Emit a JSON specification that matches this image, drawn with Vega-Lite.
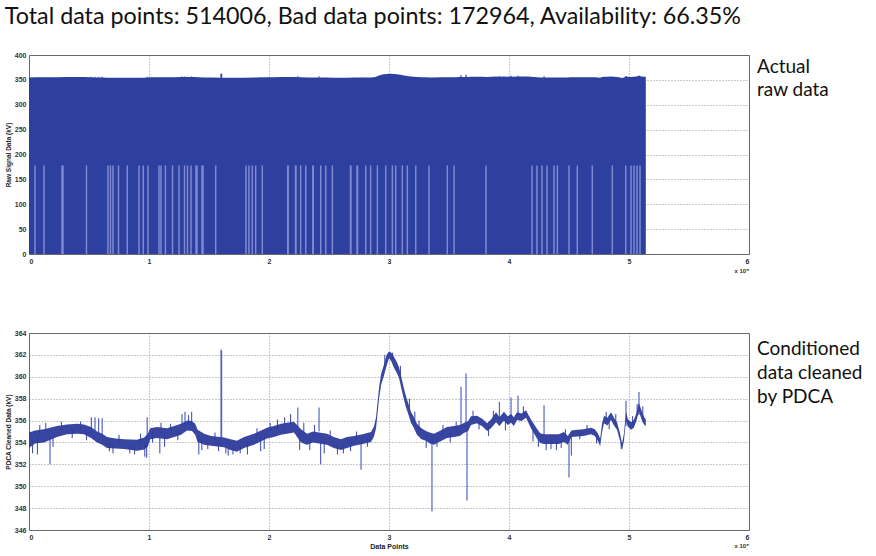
{
  "$schema": "https://vega.github.io/schema/vega-lite/v6.json",
  "background": "white",
  "padding": {"left": 4, "top": 5, "right": 0, "bottom": 0},
  "title": {"text": "Total data points: 514006, Bad data points: 172964, Availability: 66.35%", "anchor": "start", "frame": "bounds", "font": "Lato", "fontSize": 23.3, "fontWeight": "normal", "color": "#111111", "offset": 21},
  "spacing": 53,
  "config": {
    "view": {"stroke": "#666666", "strokeWidth": 1},
    "axis": {"grid": true, "gridDash": [1, 2], "gridColor": "#777777", "gridOpacity": 0.8, "ticks": false, "domain": false, "labelOverlap": false, "tickCount": 30, "format": "d", "labelFont": "Liberation Sans", "labelFontSize": 7, "labelFontWeight": "bold", "labelColor": "#333333", "labelPadding": 3, "titleFont": "Liberation Sans", "titleFontSize": 6.5, "titleFontWeight": "bold", "titleColor": "#222222"}
  },
  "datasets": {
    "band": [
      {"x": 0, "lo": 353.5, "hi": 354.9}, {"x": 5000, "lo": 353.9, "hi": 355.1}, {"x": 12500, "lo": 354.0, "hi": 355.2}, {"x": 23300, "lo": 354.5, "hi": 355.5},
      {"x": 31700, "lo": 354.75, "hi": 355.65}, {"x": 40000, "lo": 354.8, "hi": 355.7}, {"x": 45800, "lo": 354.75, "hi": 355.65}, {"x": 51700, "lo": 354.4, "hi": 355.4},
      {"x": 56700, "lo": 354.0, "hi": 355.0}, {"x": 61000, "lo": 353.8, "hi": 354.8}, {"x": 65000, "lo": 353.5, "hi": 354.5}, {"x": 72000, "lo": 353.45, "hi": 354.35},
      {"x": 79200, "lo": 353.4, "hi": 354.3}, {"x": 90000, "lo": 353.25, "hi": 354.25}, {"x": 96000, "lo": 353.35, "hi": 354.45}, {"x": 99000, "lo": 353.6, "hi": 354.8},
      {"x": 101000, "lo": 354.3, "hi": 355.3}, {"x": 106700, "lo": 354.4, "hi": 355.4}, {"x": 115000, "lo": 354.3, "hi": 355.3}, {"x": 121000, "lo": 354.5, "hi": 355.5},
      {"x": 126700, "lo": 354.7, "hi": 355.7}, {"x": 131700, "lo": 355.1, "hi": 356.0}, {"x": 135800, "lo": 355.05, "hi": 355.95}, {"x": 138500, "lo": 354.7, "hi": 355.7},
      {"x": 140500, "lo": 354.05, "hi": 355.15}, {"x": 146000, "lo": 353.8, "hi": 354.8}, {"x": 151700, "lo": 353.7, "hi": 354.6}, {"x": 162500, "lo": 353.55, "hi": 354.45},
      {"x": 168000, "lo": 353.3, "hi": 354.3}, {"x": 173300, "lo": 353.15, "hi": 354.15}, {"x": 179200, "lo": 353.5, "hi": 354.5}, {"x": 187500, "lo": 353.8, "hi": 354.8},
      {"x": 198300, "lo": 354.35, "hi": 355.35}, {"x": 204000, "lo": 354.5, "hi": 355.5}, {"x": 210000, "lo": 354.7, "hi": 355.7}, {"x": 215000, "lo": 354.8, "hi": 355.8},
      {"x": 220800, "lo": 354.9, "hi": 355.9}, {"x": 226700, "lo": 354.0, "hi": 355.2}, {"x": 231700, "lo": 353.8, "hi": 354.8}, {"x": 236700, "lo": 354.0, "hi": 355.0},
      {"x": 241700, "lo": 353.9, "hi": 354.9}, {"x": 248300, "lo": 353.8, "hi": 354.8}, {"x": 254000, "lo": 353.5, "hi": 354.5}, {"x": 260000, "lo": 353.3, "hi": 354.3},
      {"x": 265000, "lo": 353.5, "hi": 354.5}, {"x": 270800, "lo": 353.7, "hi": 354.6}, {"x": 278000, "lo": 353.85, "hi": 354.75}, {"x": 285000, "lo": 354.05, "hi": 354.95},
      {"x": 287500, "lo": 354.55, "hi": 355.45}, {"x": 289200, "lo": 355.3, "hi": 356.3}, {"x": 291700, "lo": 358.0, "hi": 359.0}, {"x": 293500, "lo": 359.3, "hi": 360.3},
      {"x": 295800, "lo": 360.1, "hi": 361.1}, {"x": 298000, "lo": 361.0, "hi": 362.0}, {"x": 300000, "lo": 361.7, "hi": 362.3}, {"x": 302000, "lo": 361.4, "hi": 362.2},
      {"x": 304200, "lo": 360.8, "hi": 361.8}, {"x": 306300, "lo": 360.4, "hi": 361.4}, {"x": 308300, "lo": 359.9, "hi": 360.9}, {"x": 310800, "lo": 358.7, "hi": 359.7},
      {"x": 312500, "lo": 357.9, "hi": 358.9}, {"x": 314200, "lo": 357.2, "hi": 358.2}, {"x": 316300, "lo": 356.5, "hi": 357.5}, {"x": 318300, "lo": 355.8, "hi": 356.8},
      {"x": 320800, "lo": 355.3, "hi": 356.3}, {"x": 323300, "lo": 354.7, "hi": 355.7}, {"x": 327000, "lo": 354.3, "hi": 355.3}, {"x": 330800, "lo": 354.15, "hi": 355.05},
      {"x": 334000, "lo": 353.9, "hi": 354.9}, {"x": 337500, "lo": 353.8, "hi": 354.8}, {"x": 343000, "lo": 354.1, "hi": 355.1}, {"x": 348300, "lo": 354.4, "hi": 355.4},
      {"x": 354200, "lo": 354.5, "hi": 355.5}, {"x": 359000, "lo": 354.6, "hi": 355.6}, {"x": 362000, "lo": 354.85, "hi": 355.75}, {"x": 366000, "lo": 355.05, "hi": 355.95},
      {"x": 368300, "lo": 355.6, "hi": 356.4}, {"x": 373300, "lo": 355.75, "hi": 356.45}, {"x": 378000, "lo": 355.45, "hi": 356.15}, {"x": 381700, "lo": 355.05, "hi": 355.75},
      {"x": 385000, "lo": 355.3, "hi": 356.1}, {"x": 389200, "lo": 355.85, "hi": 356.75}, {"x": 392000, "lo": 355.5, "hi": 356.3}, {"x": 395800, "lo": 356.0, "hi": 356.8},
      {"x": 399000, "lo": 355.6, "hi": 356.4}, {"x": 401700, "lo": 355.8, "hi": 356.6}, {"x": 404000, "lo": 355.5, "hi": 356.3}, {"x": 406700, "lo": 356.05, "hi": 356.75},
      {"x": 410500, "lo": 355.95, "hi": 356.65}, {"x": 414200, "lo": 356.25, "hi": 356.95}, {"x": 416000, "lo": 355.85, "hi": 356.55}, {"x": 418300, "lo": 355.3, "hi": 356.1},
      {"x": 423300, "lo": 354.35, "hi": 355.25}, {"x": 426000, "lo": 353.95, "hi": 354.85}, {"x": 429200, "lo": 353.85, "hi": 354.75}, {"x": 433000, "lo": 353.85, "hi": 354.75},
      {"x": 437500, "lo": 353.85, "hi": 354.75}, {"x": 441500, "lo": 353.85, "hi": 354.75}, {"x": 445800, "lo": 354.05, "hi": 354.95}, {"x": 449000, "lo": 353.8, "hi": 354.6},
      {"x": 452000, "lo": 354.5, "hi": 355.1}, {"x": 456700, "lo": 354.55, "hi": 355.15}, {"x": 462000, "lo": 354.6, "hi": 355.2}, {"x": 468300, "lo": 354.75, "hi": 355.35},
      {"x": 471500, "lo": 354.6, "hi": 355.2}, {"x": 474000, "lo": 354.15, "hi": 354.85}, {"x": 476000, "lo": 353.65, "hi": 354.35}, {"x": 477500, "lo": 354.9, "hi": 355.7},
      {"x": 479200, "lo": 355.75, "hi": 356.45}, {"x": 482000, "lo": 355.55, "hi": 356.25}, {"x": 485000, "lo": 356.05, "hi": 356.75}, {"x": 487500, "lo": 355.55, "hi": 356.25},
      {"x": 490000, "lo": 355.15, "hi": 355.85}, {"x": 492500, "lo": 354.15, "hi": 354.85}, {"x": 494200, "lo": 353.3, "hi": 353.9}, {"x": 495800, "lo": 354.15, "hi": 354.85},
      {"x": 497500, "lo": 356.0, "hi": 356.8}, {"x": 499000, "lo": 355.45, "hi": 356.15}, {"x": 501700, "lo": 355.15, "hi": 355.85}, {"x": 504000, "lo": 355.35, "hi": 356.05},
      {"x": 505800, "lo": 355.85, "hi": 356.55}, {"x": 508300, "lo": 356.8, "hi": 357.6}, {"x": 510800, "lo": 356.0, "hi": 356.8}, {"x": 512500, "lo": 355.65, "hi": 356.35},
      {"x": 514006, "lo": 355.5, "hi": 356.1}
    ],
    "spikes": [
      {"x": 17500, "from": 354.6, "to": 352.0}, {"x": 52000, "from": 355.2, "to": 356.3}, {"x": 55000, "from": 355.0, "to": 356.3}, {"x": 58000, "from": 354.8, "to": 356.2},
      {"x": 61000, "from": 354.5, "to": 356.2}, {"x": 98500, "from": 354.2, "to": 356.3}, {"x": 98000, "from": 354.0, "to": 352.6}, {"x": 109000, "from": 354.5, "to": 353.0},
      {"x": 127500, "from": 355.5, "to": 356.6}, {"x": 130000, "from": 355.6, "to": 356.8}, {"x": 135500, "from": 355.6, "to": 356.8}, {"x": 141500, "from": 354.5, "to": 352.9},
      {"x": 160000, "from": 354.3, "to": 362.5}, {"x": 160500, "from": 354.3, "to": 362.4}, {"x": 164000, "from": 354.0, "to": 353.0}, {"x": 170000, "from": 353.8, "to": 352.9},
      {"x": 193000, "from": 354.6, "to": 353.2}, {"x": 224000, "from": 355.3, "to": 357.2}, {"x": 225500, "from": 355.0, "to": 353.3}, {"x": 241700, "from": 355.0, "to": 357.2},
      {"x": 243000, "from": 354.0, "to": 352.0}, {"x": 276700, "from": 354.3, "to": 351.5}, {"x": 335800, "from": 354.3, "to": 347.7}, {"x": 360000, "from": 355.3, "to": 359.1},
      {"x": 364200, "from": 355.3, "to": 360.3}, {"x": 365000, "from": 355.3, "to": 348.7}, {"x": 392000, "from": 356.2, "to": 357.7}, {"x": 401700, "from": 356.2, "to": 358.1},
      {"x": 407500, "from": 356.4, "to": 358.3}, {"x": 429200, "from": 354.5, "to": 357.4}, {"x": 450000, "from": 354.3, "to": 350.8}, {"x": 452000, "from": 354.5, "to": 352.8},
      {"x": 497500, "from": 355.5, "to": 357.8}, {"x": 508300, "from": 356.5, "to": 358.6}
    ],
    "noise": [
      {"x": 3000, "from": 354.2, "to": 353.0}, {"x": 7000, "from": 354.5, "to": 352.9}, {"x": 9000, "from": 354.6, "to": 355.6}, {"x": 14000, "from": 354.7, "to": 355.8},
      {"x": 20000, "from": 354.8, "to": 353.6}, {"x": 27000, "from": 355.2, "to": 355.9}, {"x": 36000, "from": 355.3, "to": 354.4}, {"x": 43000, "from": 355.2, "to": 355.9},
      {"x": 48000, "from": 355.1, "to": 354.2}, {"x": 67000, "from": 354.0, "to": 353.2}, {"x": 70000, "from": 353.9, "to": 353.0}, {"x": 75000, "from": 353.9, "to": 354.7},
      {"x": 84000, "from": 353.8, "to": 353.0}, {"x": 88000, "from": 353.8, "to": 352.9}, {"x": 93000, "from": 353.8, "to": 354.8}, {"x": 96500, "from": 353.9, "to": 352.7},
      {"x": 103000, "from": 354.9, "to": 354.0}, {"x": 110000, "from": 354.8, "to": 355.8}, {"x": 113000, "from": 354.8, "to": 353.6}, {"x": 118000, "from": 354.9, "to": 355.7},
      {"x": 124000, "from": 355.1, "to": 354.2}, {"x": 133000, "from": 355.6, "to": 356.5}, {"x": 144000, "from": 354.3, "to": 353.3}, {"x": 149000, "from": 354.2, "to": 353.4},
      {"x": 155000, "from": 354.1, "to": 354.9}, {"x": 158000, "from": 354.0, "to": 353.2}, {"x": 166000, "from": 353.9, "to": 352.8}, {"x": 176000, "from": 353.8, "to": 353.0},
      {"x": 182000, "from": 354.1, "to": 352.9}, {"x": 190000, "from": 354.4, "to": 355.3}, {"x": 196000, "from": 354.8, "to": 353.4}, {"x": 201000, "from": 355.0, "to": 355.8},
      {"x": 207000, "from": 355.1, "to": 356.1}, {"x": 213000, "from": 355.3, "to": 356.3}, {"x": 218000, "from": 355.4, "to": 356.6}, {"x": 229000, "from": 354.5, "to": 355.8},
      {"x": 234000, "from": 354.4, "to": 353.3}, {"x": 238000, "from": 354.5, "to": 355.6}, {"x": 246000, "from": 354.4, "to": 353.0}, {"x": 251000, "from": 354.2, "to": 355.1},
      {"x": 257000, "from": 353.9, "to": 352.9}, {"x": 262000, "from": 353.8, "to": 353.0}, {"x": 268000, "from": 354.1, "to": 353.2}, {"x": 273000, "from": 354.2, "to": 355.0},
      {"x": 282000, "from": 354.4, "to": 353.6}, {"x": 296500, "from": 360.8, "to": 362.0}, {"x": 303000, "from": 361.5, "to": 362.2}, {"x": 309500, "from": 359.8, "to": 361.0},
      {"x": 317000, "from": 356.8, "to": 358.0}, {"x": 321500, "from": 355.6, "to": 356.8}, {"x": 325000, "from": 355.0, "to": 356.0}, {"x": 331000, "from": 354.6, "to": 353.5},
      {"x": 340000, "from": 354.4, "to": 353.6}, {"x": 345000, "from": 354.7, "to": 355.6}, {"x": 351000, "from": 354.9, "to": 354.0}, {"x": 356000, "from": 355.0, "to": 355.9},
      {"x": 370000, "from": 356.0, "to": 356.9}, {"x": 375000, "from": 356.0, "to": 355.2}, {"x": 383000, "from": 355.5, "to": 354.6}, {"x": 387000, "from": 355.9, "to": 356.9},
      {"x": 397000, "from": 356.2, "to": 355.1}, {"x": 412000, "from": 356.4, "to": 357.3}, {"x": 420000, "from": 355.2, "to": 354.1}, {"x": 424500, "from": 354.6, "to": 353.6},
      {"x": 431000, "from": 354.3, "to": 353.3}, {"x": 435000, "from": 354.3, "to": 353.4}, {"x": 439500, "from": 354.3, "to": 353.3}, {"x": 443500, "from": 354.4, "to": 353.5},
      {"x": 447000, "from": 354.4, "to": 355.2}, {"x": 459000, "from": 354.9, "to": 354.3}, {"x": 465000, "from": 355.0, "to": 355.6}, {"x": 473000, "from": 354.7, "to": 353.9},
      {"x": 481000, "from": 355.9, "to": 356.8}, {"x": 483500, "from": 356.0, "to": 355.2}, {"x": 489000, "from": 355.7, "to": 356.6}, {"x": 493500, "from": 354.0, "to": 353.4},
      {"x": 503000, "from": 355.6, "to": 356.4}, {"x": 506800, "from": 356.5, "to": 357.5}, {"x": 511500, "from": 356.2, "to": 357.3}
    ],
    "stripes": [
      {"x0": 4400, "x1": 5600}, {"x0": 11900, "x1": 13100}, {"x0": 26900, "x1": 28900}, {"x0": 47300, "x1": 48500}, {"x0": 65200, "x1": 66400},
      {"x0": 67300, "x1": 68500}, {"x0": 69400, "x1": 70600}, {"x0": 74000, "x1": 75200}, {"x0": 81300, "x1": 82500}, {"x0": 91100, "x1": 92300},
      {"x0": 94600, "x1": 95800}, {"x0": 98600, "x1": 99800}, {"x0": 107700, "x1": 108900}, {"x0": 109400, "x1": 110600}, {"x0": 113100, "x1": 114300},
      {"x0": 119000, "x1": 120200}, {"x0": 124400, "x1": 125600}, {"x0": 129000, "x1": 130200}, {"x0": 131500, "x1": 132700}, {"x0": 134400, "x1": 135600},
      {"x0": 138600, "x1": 140600}, {"x0": 143600, "x1": 145600}, {"x0": 155000, "x1": 156200}, {"x0": 180200, "x1": 181400}, {"x0": 182700, "x1": 183900},
      {"x0": 185500, "x1": 186700}, {"x0": 188300, "x1": 189500}, {"x0": 193800, "x1": 195000}, {"x0": 215000, "x1": 216600}, {"x0": 221500, "x1": 223100},
      {"x0": 225800, "x1": 227000}, {"x0": 230000, "x1": 231200}, {"x0": 235900, "x1": 237500}, {"x0": 242500, "x1": 243700}, {"x0": 246700, "x1": 247900},
      {"x0": 252200, "x1": 253400}, {"x0": 267300, "x1": 268900}, {"x0": 272800, "x1": 274400}, {"x0": 280000, "x1": 281200}, {"x0": 284100, "x1": 285300},
      {"x0": 289700, "x1": 290900}, {"x0": 296700, "x1": 297900}, {"x0": 302200, "x1": 303400}, {"x0": 305000, "x1": 306200}, {"x0": 310500, "x1": 311700},
      {"x0": 314700, "x1": 315900}, {"x0": 321700, "x1": 322900}, {"x0": 332700, "x1": 333900}, {"x0": 348000, "x1": 349200}, {"x0": 353600, "x1": 354800},
      {"x0": 380200, "x1": 381400}, {"x0": 418600, "x1": 419800}, {"x0": 422700, "x1": 423900}, {"x0": 426900, "x1": 428100}, {"x0": 431100, "x1": 432300},
      {"x0": 436900, "x1": 438100}, {"x0": 439700, "x1": 440900}, {"x0": 449400, "x1": 450600}, {"x0": 456300, "x1": 457500}, {"x0": 468800, "x1": 470000},
      {"x0": 485500, "x1": 486700}, {"x0": 496700, "x1": 497900}, {"x0": 501100, "x1": 502300}, {"x0": 503600, "x1": 504800}, {"x0": 506100, "x1": 507300},
      {"x0": 508600, "x1": 509800}
    ]
  },
  "vconcat": [
    {
      "width": 720,
      "height": 199,
      "layer": [
        {
          "data": {"name": "band"},
          "mark": {"type": "area", "color": "#2D3F9F", "opacity": 1},
          "encoding": {
            "x": {"field": "x", "type": "quantitative", "scale": {"domain": [0, 600000], "nice": false, "zero": false}, "axis": {"values": [0, 100000, 200000, 300000, 400000, 500000, 600000], "labelExpr": "datum.value / 100000", "title": null, "tickCount": 30, "labelOverlap": false}},
            "y": {"field": "hi", "type": "quantitative", "scale": {"domain": [0, 400], "nice": false}, "axis": {"values": [0, 50, 100, 150, 200, 250, 300, 350, 400], "format": "d", "title": "Raw Signal Data (kV)", "titlePadding": 3, "tickCount": 30, "labelOverlap": false}}
          }
        },
        {
          "data": {"name": "spikes"},
          "mark": {"type": "rule", "color": "#2D3F9F", "strokeWidth": 1.2},
          "encoding": {"x": {"field": "x", "type": "quantitative"}, "y": {"field": "from", "type": "quantitative"}, "y2": {"field": "to"}}
        },
        {
          "data": {"name": "stripes"},
          "mark": {"type": "rect", "color": "#9299DA", "opacity": 0.85},
          "encoding": {"x": {"field": "x0", "type": "quantitative"}, "x2": {"field": "x1"}, "y": {"datum": 0}, "y2": {"datum": 178}}
        },
        {
          "data": {"values": [{}]},
          "mark": {"type": "text", "text": "x 10⁵", "font": "Liberation Sans", "fontSize": 6, "fontWeight": "bold", "color": "#333333", "align": "right", "baseline": "top", "dy": 14},
          "encoding": {"x": {"datum": 600000}, "y": {"datum": 0}}
        },
        {
          "data": {"values": [{}]},
          "mark": {"type": "text", "text": ["Actual", "raw data"], "font": "Lato", "fontSize": 19, "color": "#111111", "align": "left", "baseline": "alphabetic", "lineHeight": 23},
          "encoding": {"x": {"datum": 606700}, "y": {"datum": 364}}
        }
      ]
    },
    {
      "width": 720,
      "height": 197,
      "layer": [
        {
          "data": {"name": "spikes"},
          "mark": {"type": "rule", "color": "#5564C6", "strokeWidth": 1.2},
          "encoding": {
            "x": {"field": "x", "type": "quantitative", "scale": {"domain": [0, 600000], "nice": false, "zero": false}, "axis": {"values": [0, 100000, 200000, 300000, 400000, 500000, 600000], "labelExpr": "datum.value / 100000", "title": "Data Points", "titlePadding": 2, "titleFontSize": 7, "tickCount": 30, "labelOverlap": false}},
            "y": {"field": "from", "type": "quantitative", "scale": {"domain": [346, 364], "nice": false, "zero": false}, "axis": {"values": [346, 348, 350, 352, 354, 356, 358, 360, 362, 364], "format": "d", "title": "PDCA Cleaned Data (kV)", "titlePadding": 3, "tickCount": 30, "labelOverlap": false}},
            "y2": {"field": "to"}
          }
        },
        {
          "data": {"name": "noise"},
          "mark": {"type": "rule", "color": "#3444A6", "strokeWidth": 1},
          "encoding": {"x": {"field": "x", "type": "quantitative"}, "y": {"field": "from", "type": "quantitative"}, "y2": {"field": "to"}}
        },
        {
          "data": {"name": "band"},
          "mark": {"type": "area", "color": "#2E3C9C", "opacity": 0.95},
          "encoding": {"x": {"field": "x", "type": "quantitative"}, "y": {"field": "lo", "type": "quantitative"}, "y2": {"field": "hi"}}
        },
        {
          "data": {"values": [{}]},
          "mark": {"type": "text", "text": "x 10⁵", "font": "Liberation Sans", "fontSize": 6, "fontWeight": "bold", "color": "#333333", "align": "right", "baseline": "top", "dy": 13},
          "encoding": {"x": {"datum": 600000}, "y": {"datum": 346}}
        },
        {
          "data": {"values": [{}]},
          "mark": {"type": "text", "text": ["Conditioned", "data cleaned", "by PDCA"], "font": "Lato", "fontSize": 19, "color": "#111111", "align": "left", "baseline": "alphabetic", "lineHeight": 24},
          "encoding": {"x": {"datum": 606700}, "y": {"datum": 362}}
        }
      ]
    }
  ]
}
